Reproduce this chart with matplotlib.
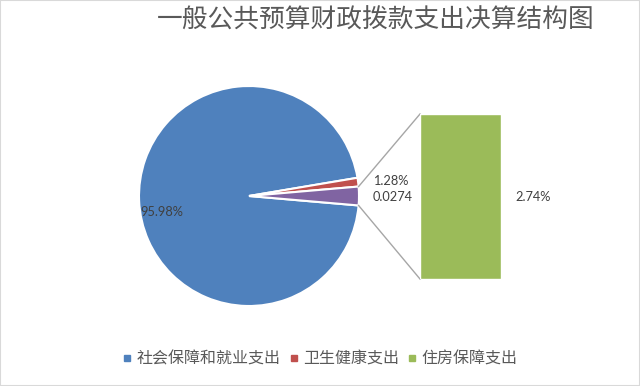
import numpy as np
import matplotlib
matplotlib.use("Agg")
import matplotlib.pyplot as plt
from matplotlib.patches import Rectangle
from matplotlib.lines import Line2D

plt.rcParams['font.family'] = ['Noto Sans CJK SC', 'DejaVu Sans']

title = "一般公共预算财政拨款支出决算结构图"
categories = ["社会保障和就业支出", "卫生健康支出", "住房保障支出"]
values = [95.98, 1.28, 2.74]
pie_labels = ["95.98%", "1.28%", "0.0274"]
bar_label = "2.74%"
colors = ["#4F81BD", "#C0504D", "#8064A2"]
bar_color = "#9BBB59"
text_color = "#595959"

W, H = 640, 386
fig = plt.figure(figsize=(W / 100, H / 100), dpi=100)
ax = fig.add_axes([0, 0, 1, 1])

cx, cy_pix, r = 249, 196, 110
cy = H - cy_pix
other_frac = values[2] / sum(values)
start = 360 - other_frac * 360 / 2
wedges, _ = ax.pie(values, colors=colors, center=(cx, cy), radius=r,
                   startangle=start, counterclock=False, frame=True,
                   wedgeprops=dict(edgecolor="white", linewidth=1.5))
ax.set_xlim(0, W)
ax.set_ylim(0, H)
ax.set_aspect("equal")
ax.axis("off")

# bar of pie
bx0, bx1, by0, by1 = 420, 501, 114, 279
ax2 = fig.add_axes([bx0 / W, (H - by1) / H, (bx1 - bx0) / W, (by1 - by0) / H])
ax2.bar([0], [values[2]], width=1.0, color=bar_color, edgecolor="white", linewidth=1)
ax2.set_xlim(-0.5, 0.5)
ax2.set_ylim(0, values[2])
ax2.axis("off")

# connector lines
half = np.deg2rad(other_frac * 360 / 2)
p_top = (cx + r * np.cos(half), cy + r * np.sin(half))
p_bot = (cx + r * np.cos(-half), cy + r * np.sin(-half))
ax.plot([p_top[0], bx0], [p_top[1], H - by0], color="#A6A6A6", lw=1)
ax.plot([p_bot[0], bx0], [p_bot[1], H - by1], color="#A6A6A6", lw=1)

lab_font = dict(family=["Lato", "DejaVu Sans"], fontsize=9.2, color="#404040")
ax.text(140, H - 212, pie_labels[0], ha="left", va="center", **lab_font)
ax.text(373, H - 181, pie_labels[1], ha="left", va="center", **lab_font)
ax.text(373, H - 197, pie_labels[2], ha="left", va="center", **lab_font)
ax.text(515, H - 197, bar_label, ha="left", va="center", **lab_font)

ax.text(376, H - 21, title, ha="center", va="center", fontsize=18.5, color=text_color)

# legend
handles = [Line2D([], [], marker="s", ls="", color=c, markersize=5)
           for c in [colors[0], colors[1], bar_color]]
fig.legend(handles, categories, loc="center", bbox_to_anchor=(320 / W, 1 - 359 / H),
           ncol=3, frameon=False, fontsize=11.5, handlelength=0.6, handletextpad=0.3,
           columnspacing=0.5, labelcolor=text_color)

fig.patches.append(Rectangle((0, 0), 1, 1, transform=fig.transFigure, fill=False,
                             edgecolor="#D9D9D9", lw=1.5))

fig.savefig("out.png", dpi=100)
